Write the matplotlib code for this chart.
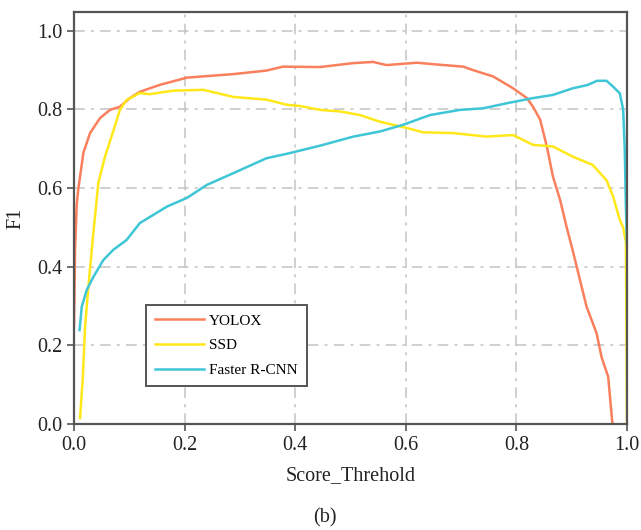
import matplotlib
matplotlib.use('Agg')
import matplotlib.pyplot as plt

# F1 vs score threshold
yolox_x = [0.0, 0.002, 0.005, 0.008, 0.017, 0.023, 0.029, 0.047, 0.065, 0.083, 0.101, 0.119,
           0.156, 0.204, 0.25, 0.288, 0.348, 0.378, 0.445, 0.505, 0.541, 0.565, 0.62, 0.66,
           0.704, 0.722, 0.758, 0.794, 0.819, 0.83, 0.843, 0.855, 0.866, 0.879, 0.891, 0.903,
           0.915, 0.927, 0.945, 0.954, 0.966, 0.973, 0.974]
yolox_f1 = [0.25, 0.45, 0.56, 0.60, 0.69, 0.715, 0.74, 0.778, 0.799, 0.807, 0.829, 0.845,
            0.863, 0.881, 0.886, 0.89, 0.899, 0.909, 0.908, 0.918, 0.921, 0.913, 0.919, 0.914,
            0.909, 0.900, 0.884, 0.854, 0.829, 0.807, 0.774, 0.706, 0.63, 0.57, 0.50, 0.435,
            0.366, 0.298, 0.231, 0.17, 0.12, 0.01, 0.0]

ssd_x = [0.011, 0.016, 0.02, 0.026, 0.035, 0.044, 0.056, 0.071, 0.083, 0.095, 0.119, 0.137,
         0.18, 0.234, 0.288, 0.348, 0.385, 0.408, 0.445, 0.481, 0.517, 0.553, 0.577, 0.602,
         0.631, 0.686, 0.746, 0.794, 0.83, 0.866, 0.902, 0.938, 0.963, 0.975, 0.987, 0.993,
         0.998, 1.0]
ssd_f1 = [0.015, 0.12, 0.247, 0.349, 0.486, 0.613, 0.68, 0.745, 0.799, 0.824, 0.842, 0.839,
          0.848, 0.85, 0.832, 0.825, 0.812, 0.809, 0.799, 0.795, 0.786, 0.769, 0.761, 0.753,
          0.742, 0.74, 0.731, 0.735, 0.71, 0.706, 0.68, 0.659, 0.62, 0.578, 0.519, 0.50,
          0.463, 0.0]

frcnn_x = [0.01, 0.014, 0.023, 0.035, 0.053, 0.071, 0.095, 0.119, 0.168, 0.204, 0.24, 0.288,
           0.348, 0.39, 0.445, 0.505, 0.553, 0.595, 0.644, 0.698, 0.74, 0.783, 0.83, 0.866,
           0.902, 0.928, 0.946, 0.963, 0.975, 0.987, 0.993, 0.996, 0.998, 1.0]
frcnn_f1 = [0.239, 0.298, 0.341, 0.374, 0.417, 0.443, 0.468, 0.511, 0.553, 0.575, 0.608, 0.638,
            0.676, 0.689, 0.708, 0.731, 0.744, 0.761, 0.786, 0.799, 0.803, 0.816, 0.829, 0.837,
            0.854, 0.862, 0.873, 0.873, 0.858, 0.841, 0.8, 0.697, 0.55, 0.46]

ticks = [0.0, 0.2, 0.4, 0.6, 0.8, 1.0]
tick_labels = ['0.0', '0.2', '0.4', '0.6', '0.8', '1.0']

plt.rcParams['font.family'] = ['Liberation Serif', 'DejaVu Serif']

fig = plt.figure(figsize=(6.41, 5.30), dpi=100)
ax = fig.add_axes([74 / 641, 106 / 530, 553 / 641, 412 / 530])

ax.plot(yolox_x, yolox_f1, color='#FA7F5C', lw=1.8, label='YOLOX')
ax.plot(ssd_x, ssd_f1, color='#FFE81A', lw=1.8, label='SSD')
ax.plot(frcnn_x, frcnn_f1, color='#3EC6D6', lw=1.8, label='Faster R-CNN')

ax.set_xlim(0, 1.0)
ax.set_ylim(0, 1.048)
ax.set_xticks(ticks)
ax.set_xticklabels(tick_labels)
ax.set_yticks(ticks)
ax.set_yticklabels(tick_labels)
ax.tick_params(labelsize=14.5, direction='out', length=5, width=1.2, color='#555555',
               labelcolor='#222222')
ax.grid(True, color='#c4c4c4', linestyle=(0, (7, 4, 2, 4)), linewidth=1.1)
ax.set_axisbelow(True)
for sp in ax.spines.values():
    sp.set_color('#555555')
    sp.set_linewidth(1.6)

ax.set_xlabel('Score_Threhold', fontsize=14.5, color='#222222', labelpad=8)
ax.set_ylabel('F1', fontsize=14.5, color='#222222', labelpad=8)

leg = ax.legend(loc='lower left', bbox_to_anchor=(0.130, 0.092), borderaxespad=0,
                fontsize=11, fancybox=False, framealpha=1, edgecolor='#555555',
                handlelength=3.2, handletextpad=0.35, labelspacing=0.72,
                borderpad=0.6)
leg.get_frame().set_linewidth(1.4)

fig.text(325 / 641, 1 - 518 / 530, '(b)', fontsize=14.5, ha='center', va='center',
         color='#222222')

plt.savefig('out.png', dpi=100)
